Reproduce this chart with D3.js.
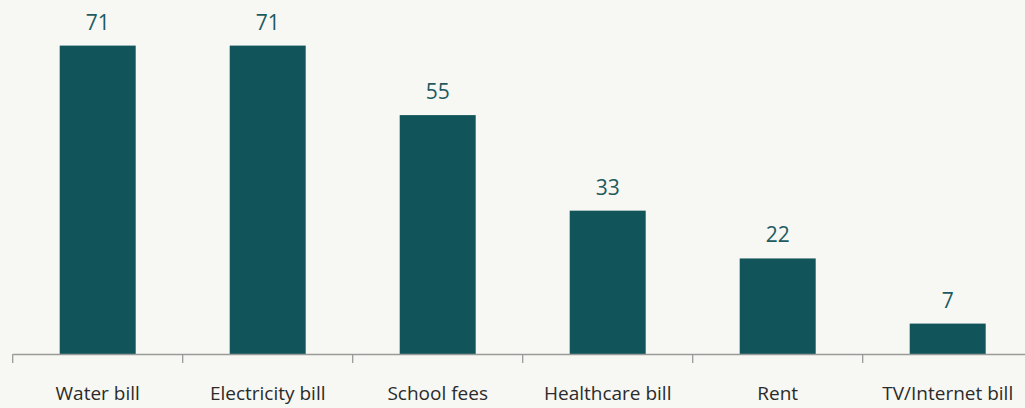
<!DOCTYPE html>
<html>
<head>
<meta charset="utf-8">
<script src="https://cdn.jsdelivr.net/npm/d3@7"></script>
<style>
  html, body { margin: 0; padding: 0; background: #f7f7f3; }
  svg { display: block; }
</style>
</head>
<body>
<svg id="chart" width="1025" height="408"></svg>
<script>
// Share of households behind on each bill type
const categories = ["Water bill", "Electricity bill", "School fees", "Healthcare bill", "Rent", "TV/Internet bill"];
const values = [71, 71, 55, 33, 22, 7];

const svg = d3.select("#chart");

const x = d3.scaleBand()
  .domain(categories)
  .range([12.7, 1032.7])
  .paddingInner(0.553)
  .paddingOuter(0.2765);

const y = d3.scaleLinear()
  .domain([0, 81.5])
  .range([354, 0]);

const teal = "#11555b";

// bars
svg.append("g")
  .selectAll("rect")
  .data(values)
  .join("rect")
  .attr("x", (d, i) => x(categories[i]))
  .attr("y", d => y(d))
  .attr("width", x.bandwidth())
  .attr("height", d => y(0) - y(d))
  .attr("fill", teal);

// value labels
svg.append("g")
  .selectAll("text")
  .data(values)
  .join("text")
  .attr("x", (d, i) => x(categories[i]) + x.bandwidth() / 2)
  .attr("y", d => y(d) - 16)
  .attr("text-anchor", "middle")
  .attr("font-family", "'Open Sans', sans-serif")
  .attr("font-size", 21)
  .attr("fill", "#1d5b61")
  .text(d => d);

// category axis: baseline with ticks at band boundaries
const axis = d3.axisBottom(x).tickSize(0).tickPadding(33);
const gx = svg.append("g")
  .attr("transform", `translate(0,${y(0)})`)
  .call(axis);
gx.select(".domain").attr("stroke", "#9a9a9a").attr("stroke-width", 1.3);
gx.selectAll(".tick text")
  .attr("font-family", "'Open Sans', sans-serif")
  .attr("font-size", 19)
  .attr("fill", "#2b2b2b");

const step = x.step();
const bounds = d3.range(categories.length + 1).map(i => x.range()[0] + i * step);
gx.selectAll(".bound")
  .data(bounds)
  .join("line")
  .attr("class", "bound")
  .attr("x1", d => d).attr("x2", d => d)
  .attr("y1", 0).attr("y2", 9)
  .attr("stroke", "#9a9a9a")
  .attr("stroke-width", 1.3);
</script>
</body>
</html>
